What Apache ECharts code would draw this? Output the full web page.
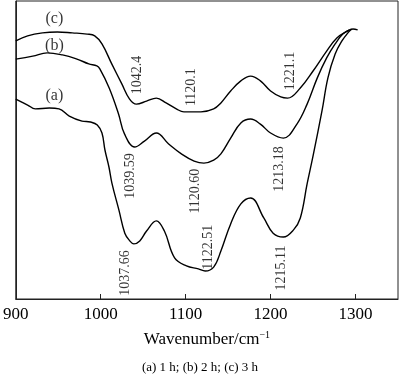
<!DOCTYPE html>
<html><head><meta charset="utf-8">
<script src="https://cdn.jsdelivr.net/npm/echarts@6/dist/echarts.min.js"></script>
<style>html,body{margin:0;padding:0;background:#fff}#c{width:400px;height:378px}</style>
</head><body><div id="c"></div>
<script>
// Curve (a): 1 h
const aWn  = [900, 914, 923, 939.5, 951, 963, 978, 988, 996, 1001.5, 1005, 1009.7, 1013.2, 1021.4, 1028.4, 1034.3, 1039, 1046, 1054, 1065.5, 1075, 1087, 1101, 1115, 1123, 1133, 1141.5, 1153, 1165, 1176.5, 1192, 1203, 1215, 1227, 1235, 1243, 1250, 1260.5, 1267.5, 1276, 1284, 1291, 1295.5];
const aVal = [67.1, 65.1, 63.8, 64.1, 63.8, 61.4, 59.7, 59.4, 58.4, 55.7, 50.0, 44.3, 38.9, 29.9, 22.1, 19.5, 18.5, 19.5, 22.8, 26.2, 22.8, 13.8, 11.1, 10.1, 9.4, 10.7, 16.1, 25.2, 31.9, 33.9, 27.2, 22.1, 20.8, 23.2, 27.2, 38.6, 48.0, 63.1, 74.2, 82.2, 86.6, 89.3, 90.6];
// Curve (b): 2 h
const bWn  = [900, 920, 937, 955, 972, 986, 995.5, 999, 1010, 1021, 1028, 1040, 1051.5, 1065.5, 1080, 1095, 1110, 1121.5, 1133, 1141.5, 1153, 1165, 1176.5, 1188, 1200, 1215, 1231, 1243, 1255, 1266, 1276, 1285, 1293];
const bVal = [80.5, 81.5, 82.6, 81.9, 80.5, 78.9, 78.2, 77.2, 70.8, 62.1, 55.4, 51.0, 53.0, 55.7, 52.0, 48.7, 46.3, 45.6, 46.6, 48.7, 54.0, 59.1, 60.4, 58.7, 55.7, 54.0, 58.7, 65.4, 74.2, 80.9, 85.6, 88.9, 90.3];
// Curve (c): 3 h
const cWn  = [900, 914, 931.5, 949, 966.5, 984, 993, 1001.5, 1013, 1025, 1034, 1042, 1054, 1065.5, 1077, 1089, 1098, 1118, 1133, 1141.5, 1153, 1165, 1176.5, 1188, 1200, 1212, 1220, 1235, 1250, 1266, 1278, 1290, 1297, 1302.5];
const cVal = [86.6, 88.3, 89.3, 89.6, 89.3, 88.9, 88.3, 85.6, 78.9, 72.1, 67.1, 65.4, 66.4, 67.4, 65.8, 63.8, 62.8, 62.8, 63.8, 65.8, 69.8, 73.2, 74.8, 73.2, 69.8, 67.8, 67.4, 70.8, 76.5, 83.2, 87.6, 89.9, 90.6, 90.3];

const xTicks = [900, 1000, 1100, 1200, 1300];
const curveNames = ['(a)', '(b)', '(c)'];
const peakLabels = ['1037.66', '1122.51', '1215.11', '1039.59', '1120.60', '1213.18', '1042.4', '1120.1', '1221.1'];
// annotation anchor points (wavenumber, value)
const peakWn  = [1029.5, 1126.3, 1212.7, 1035.3, 1111.2, 1210.3, 1043.5, 1106.5, 1223];
const peakVal = [8.7, 17.4, 10.4, 41.3, 36.2, 43.6, 75.2, 71.1, 76.5];
const nameWn  = [945.5, 945.5, 945.5];
const nameVal = [68.1, 84.9, 94.0];

const FONT = '"Liberation Serif", "Times New Roman", serif';
const zip = (xs, ys) => xs.map((x, i) => [x, ys[i]]);
const lineSeries = (xs, ys) => ({
  type: 'line', data: zip(xs, ys), smooth: 0.4, showSymbol: false, silent: true,
  lineStyle: { color: '#000', width: 1.4 }
});

const chart = echarts.init(document.getElementById('c'), null, { renderer: 'canvas' });
chart.setOption({
  animation: false,
  backgroundColor: '#fff',
  grid: { left: 13, right: 2, top: 1, bottom: 79, show: true, borderColor: '#222', borderWidth: 1 },
  xAxis: {
    type: 'value', min: 900, max: 1350, interval: 100,
    axisLine: { show: true, lineStyle: { color: '#222', width: 1 } },
    axisTick: { show: true, inside: true, length: 5, lineStyle: { color: '#222' } },
    axisLabel: { show: true, margin: 7, fontFamily: FONT, fontSize: 17, color: '#000', showMaxLabel: false,
      formatter: v => xTicks.includes(v) ? String(v) : '' },
    splitLine: { show: false },
    name: '{a|Wavenumber/cm}{s|−1}', nameLocation: 'middle', nameGap: 31,
    nameTextStyle: { fontFamily: FONT, fontSize: 17, color: '#000',
      rich: { a: { fontFamily: FONT, fontSize: 17, color: '#000', verticalAlign: 'bottom', lineHeight: 18 },
              s: { fontFamily: FONT, fontSize: 10, color: '#000', verticalAlign: 'top', lineHeight: 18 } } }
  },
  yAxis: {
    type: 'value', min: 0, max: 100,
    axisLine: { show: true, lineStyle: { color: '#222' } },
    axisTick: { show: false }, axisLabel: { show: false }, splitLine: { show: false }
  },
  series: [
    lineSeries(aWn, aVal),
    lineSeries(bWn, bVal),
    lineSeries(cWn, cVal),
    {
      type: 'scatter', symbolSize: 0, silent: true,
      data: peakWn.map((w, i) => [w, peakVal[i], peakLabels[i]]),
      label: { show: true, position: 'inside', rotate: 90, formatter: p => p.data[2],
        fontFamily: FONT, fontSize: 14, color: '#000' }
    },
    {
      type: 'scatter', symbolSize: 0, silent: true,
      data: nameWn.map((w, i) => [w, nameVal[i], curveNames[i]]),
      label: { show: true, position: 'inside', formatter: p => p.data[2],
        fontFamily: FONT, fontSize: 16, color: '#000' }
    }
  ],
  graphic: [{
    type: 'text', left: 'center', top: 361,
    style: { text: '(a) 1 h; (b) 2 h; (c) 3 h', font: '13px ' + FONT, fill: '#000' }
  }]
});
</script>
</body></html>
